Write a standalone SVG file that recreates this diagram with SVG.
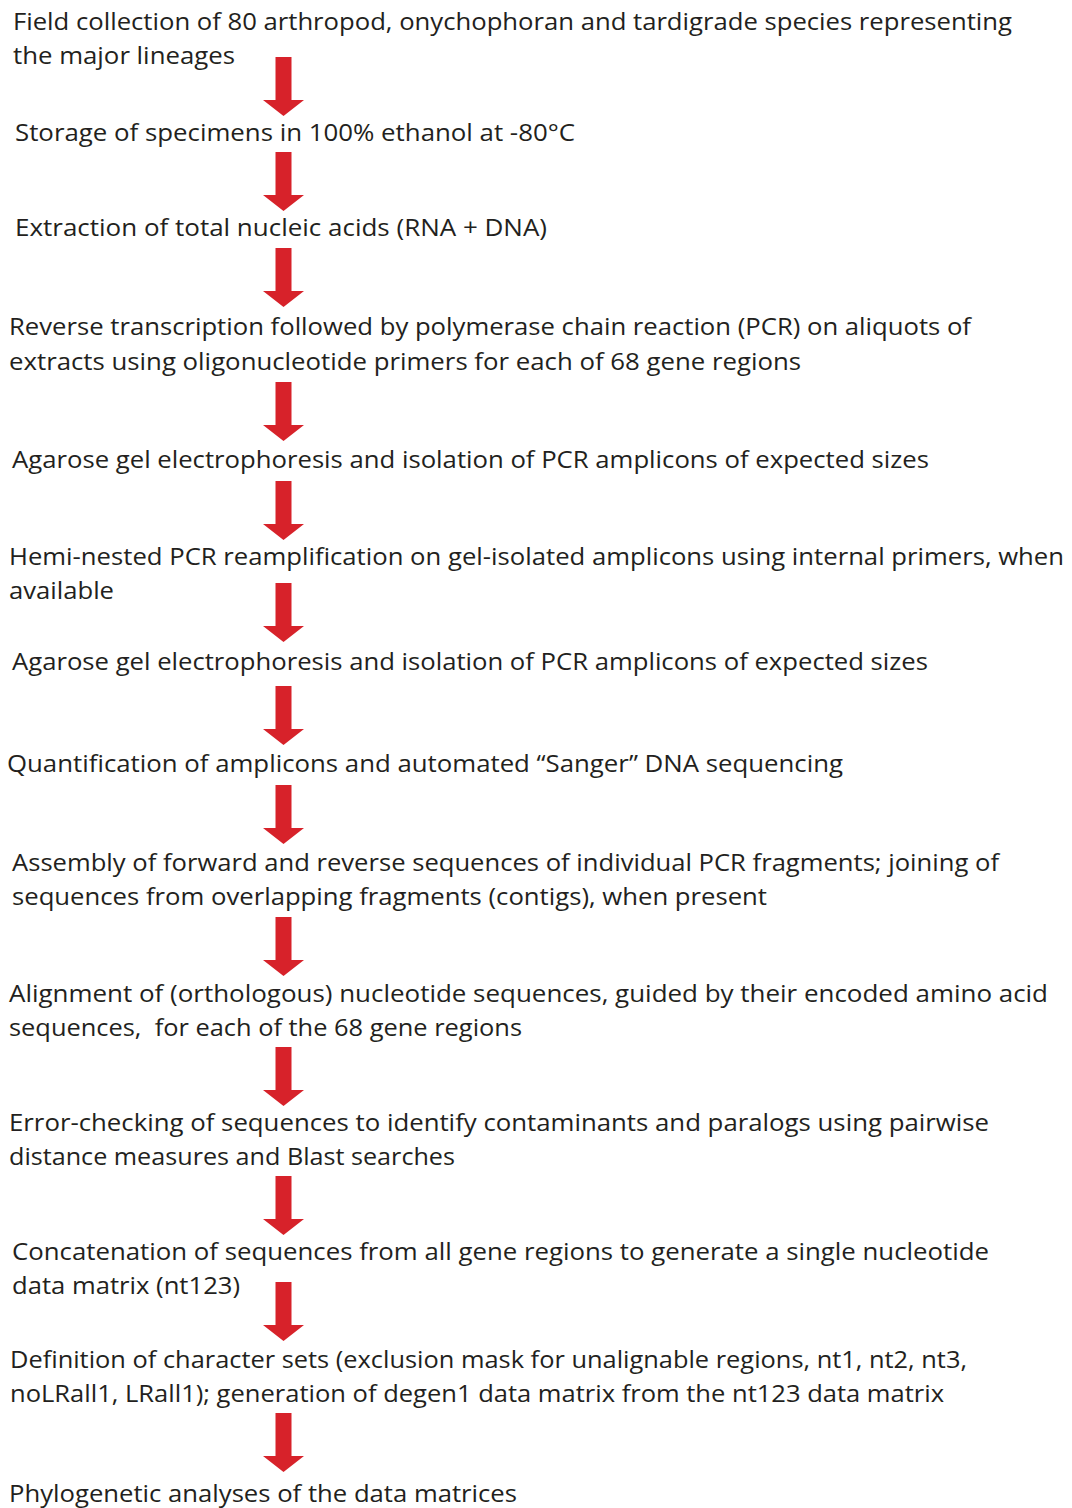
<svg xmlns="http://www.w3.org/2000/svg" width="1072" height="1508" viewBox="0 0 1072 1508">
  <defs>
    <style>
      .t { font-family: "Open Sans", "Noto Sans", "Liberation Sans", sans-serif; font-size: 24px; fill: #231f20; }
      .arrow { fill: #d7222a; }
    </style>
    <!-- downward block arrow, drawn from its top centre -->
    <path id="down" d="M-8,0 H8 V43 H20.5 L0,59 L-20.5,43 H-8 Z"/>
  </defs>
  <rect width="1072" height="1508" fill="#ffffff"/>

  <g id="connectors" class="arrow">
    <use href="#down" x="283.5" y="57"/>
    <use href="#down" x="283.5" y="152"/>
    <use href="#down" x="283.5" y="248"/>
    <use href="#down" x="283.5" y="382"/>
    <use href="#down" x="283.5" y="481"/>
    <use href="#down" x="283.5" y="583"/>
    <use href="#down" x="283.5" y="686"/>
    <use href="#down" x="283.5" y="785"/>
    <use href="#down" x="283.5" y="917"/>
    <use href="#down" x="283.5" y="1047"/>
    <use href="#down" x="283.5" y="1176"/>
    <use href="#down" x="283.5" y="1282"/>
    <use href="#down" x="283.5" y="1413"/>
  </g>

  <g id="step1" class="t">
    <text x="13" y="30" textLength="999" lengthAdjust="spacingAndGlyphs">Field collection of 80 arthropod, onychophoran and tardigrade species representing</text>
    <text x="13" y="64" textLength="222" lengthAdjust="spacingAndGlyphs">the major lineages</text>
  </g>
  <g id="step2" class="t">
    <text x="15" y="141" textLength="560" lengthAdjust="spacingAndGlyphs">Storage of specimens in 100% ethanol at -80°C</text>
  </g>
  <g id="step3" class="t">
    <text x="15" y="236" textLength="532" lengthAdjust="spacingAndGlyphs">Extraction of total nucleic acids (RNA + DNA)</text>
  </g>
  <g id="step4" class="t">
    <text x="9" y="335" textLength="962" lengthAdjust="spacingAndGlyphs">Reverse transcription followed by polymerase chain reaction (PCR) on aliquots of</text>
    <text x="9" y="370" textLength="792" lengthAdjust="spacingAndGlyphs">extracts using oligonucleotide primers for each of 68 gene regions</text>
  </g>
  <g id="step5" class="t">
    <text x="12" y="468" textLength="917" lengthAdjust="spacingAndGlyphs">Agarose gel electrophoresis and isolation of PCR amplicons of expected sizes</text>
  </g>
  <g id="step6" class="t">
    <text x="9" y="565" textLength="1055" lengthAdjust="spacingAndGlyphs">Hemi-nested PCR reamplification on gel-isolated amplicons using internal primers, when</text>
    <text x="9" y="599" textLength="105" lengthAdjust="spacingAndGlyphs">available</text>
  </g>
  <g id="step7" class="t">
    <text x="12" y="670" textLength="916" lengthAdjust="spacingAndGlyphs">Agarose gel electrophoresis and isolation of PCR amplicons of expected sizes</text>
  </g>
  <g id="step8" class="t">
    <text x="7" y="772" textLength="836" lengthAdjust="spacingAndGlyphs">Quantification of amplicons and automated “Sanger” DNA sequencing</text>
  </g>
  <g id="step9" class="t">
    <text x="12" y="871" textLength="987" lengthAdjust="spacingAndGlyphs">Assembly of forward and reverse sequences of individual PCR fragments; joining of</text>
    <text x="12" y="905" textLength="755" lengthAdjust="spacingAndGlyphs">sequences from overlapping fragments (contigs), when present</text>
  </g>
  <g id="step10" class="t">
    <text x="9" y="1002" textLength="1039" lengthAdjust="spacingAndGlyphs">Alignment of (orthologous) nucleotide sequences, guided by their encoded amino acid</text>
    <text x="9" y="1036" textLength="513" lengthAdjust="spacingAndGlyphs" xml:space="preserve">sequences,  for each of the 68 gene regions</text>
  </g>
  <g id="step11" class="t">
    <text x="9" y="1131" textLength="980" lengthAdjust="spacingAndGlyphs">Error-checking of sequences to identify contaminants and paralogs using pairwise</text>
    <text x="9" y="1165" textLength="446" lengthAdjust="spacingAndGlyphs">distance measures and Blast searches</text>
  </g>
  <g id="step12" class="t">
    <text x="12" y="1260" textLength="977" lengthAdjust="spacingAndGlyphs">Concatenation of sequences from all gene regions to generate a single nucleotide</text>
    <text x="12" y="1294" textLength="228" lengthAdjust="spacingAndGlyphs">data matrix (nt123)</text>
  </g>
  <g id="step13" class="t">
    <text x="10" y="1368" textLength="957" lengthAdjust="spacingAndGlyphs">Definition of character sets (exclusion mask for unalignable regions, nt1, nt2, nt3,</text>
    <text x="10" y="1402" textLength="934" lengthAdjust="spacingAndGlyphs">noLRall1, LRall1); generation of degen1 data matrix from the nt123 data matrix</text>
  </g>
  <g id="step14" class="t">
    <text x="9" y="1502" textLength="508" lengthAdjust="spacingAndGlyphs">Phylogenetic analyses of the data matrices</text>
  </g>
</svg>
